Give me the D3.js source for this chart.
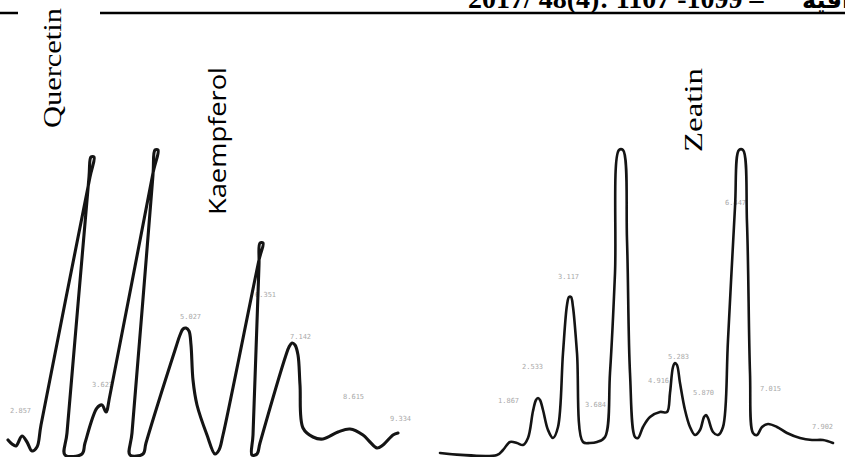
<!DOCTYPE html>
<html>
<head>
<meta charset="utf-8">
<script src="https://cdn.jsdelivr.net/npm/d3@7"></script>
<style>
  html, body { margin: 0; padding: 0; background: #fff; }
  svg { display: block; }
</style>
</head>
<body>
<svg id="chart" width="845" height="457"></svg>
<script>
// Flavonoid run (Quercetin / Kaempferol): retention position and detector signal
const leftTime   = [8, 12, 16, 22, 27, 32, 37, 41, 90, 94, 91, 89, 67, 65, 82, 85, 97, 102, 106, 110, 153, 158, 155, 153, 132, 130, 143, 146, 176, 180, 183, 186, 189, 191, 193, 197, 207, 215, 219, 223, 259, 263, 260, 259, 253, 252, 257, 260, 286, 289, 292, 295, 298, 300, 303, 313, 323, 338, 350, 363, 370, 377, 383, 393, 398];
const leftSignal = [15, 11, 9, 19, 13, 4, 8, 30, 278, 298, 298, 278, 22, 0, 1, 12, 47, 50, 43, 60, 282, 305, 305, 280, 22, 0, 1, 12, 108, 120, 126, 127, 124, 110, 75, 50, 20, 1, 5, 20, 195, 212, 212, 190, 20, 0, 1, 12, 100, 108, 112, 110, 100, 70, 27, 18, 16, 23, 26, 20, 13, 7, 10, 20, 22];

// Cytokinin run (Zeatin)
const rightTime   = [440, 497, 503, 510, 517, 523, 528, 533, 536, 538, 540, 543, 548, 553, 558, 563, 567, 569, 571, 573, 577, 583, 590, 597, 605, 610, 615, 619, 623, 627, 630, 635, 638, 643, 650, 660, 667, 670, 673, 675, 677, 680, 685, 690, 695, 700, 704, 706, 708, 713, 718, 723, 728, 735, 739, 743, 747, 750, 753, 757, 762, 768, 777, 787, 800, 812, 823, 833];
const rightSignal = [2, 0, 5, 13, 12, 10, 17, 44, 55, 57, 55, 45, 25, 17, 28, 102, 150, 158, 158, 148, 102, 13, 12, 13, 18, 82, 182, 305, 305, 215, 82, 18, 17, 28, 38, 43, 43, 62, 88, 92, 90, 72, 45, 28, 20, 25, 38, 40, 37, 23, 20, 28, 115, 248, 305, 305, 232, 82, 22, 20, 28, 31, 28, 22, 17, 15, 15, 12];

// Integrator retention-time prints beside the peaks
const printTime   = [10, 92, 180, 255, 290, 343, 390, 498, 522, 558, 585, 648, 668, 693, 725, 760, 812];
const printSignal = [42, 68, 136, 158, 116, 56, 34, 52, 86, 176, 48, 72, 96, 60, 250, 64, 26];
const printText   = ["2.857", "3.623", "5.027", "6.351", "7.142", "8.615", "9.334", "1.867", "2.533", "3.117", "3.684", "4.916", "5.283", "5.870", "6.447", "7.015", "7.902"];

// Compound names over the peaks
const compoundNames = ["Quercetin", "Kaempferol", "Zeatin"];
const compoundTime  = [61, 226, 702];
const compoundTop   = [128, 215, 152];

const headerText = "2017/ 48(4): 1107 -1099 \u2013";
const headerArabic = "\u0645\u062c\u0644\u0629 \u0627\u0644\u0639\u0644\u0648\u0645 \u0627\u0644\u0632\u0631\u0627\u0639\u064a\u0629 \u0627\u0644\u0639\u0631\u0627\u0642\u064a\u0629";

const svg = d3.select("#chart");

const x = d3.scaleLinear().domain([0, 845]).range([0, 845]);
const y = d3.scaleLinear().domain([0, 305]).range([455, 150]);

// running header and rule
svg.append("text")
  .attr("x", 468).attr("y", 8)
  .attr("font-family", "Liberation Serif, Times New Roman, serif")
  .attr("font-weight", "bold")
  .attr("font-size", 28)
  .attr("fill", "#000")
  .text(headerText);
svg.append("text")
  .attr("x", 802).attr("y", 8)
  .attr("font-family", "DejaVu Sans, Noto Sans, sans-serif")
  .attr("font-weight", "bold")
  .attr("font-size", 24)
  .attr("fill", "#000")
  .text(headerArabic);

[[0, 18], [100, 845]].forEach(([a, b]) => {
  svg.append("line")
    .attr("x1", a).attr("x2", b)
    .attr("y1", 13).attr("y2", 13)
    .attr("stroke", "#000").attr("stroke-width", 2.5);
});

// faint integrator prints
svg.append("g")
  .selectAll("text")
  .data(printText)
  .join("text")
  .attr("x", (d, i) => x(printTime[i]))
  .attr("y", (d, i) => y(printSignal[i]))
  .attr("font-family", "DejaVu Sans Mono, monospace")
  .attr("font-size", 7)
  .attr("fill", "#aaaaaa")
  .text(d => d);

// chromatogram traces
const line = d3.line()
  .x(d => x(d[0]))
  .y(d => y(d[1]))
  .curve(d3.curveCatmullRom.alpha(0.5));

const traces = [
  d3.zip(leftTime, leftSignal),
  d3.zip(rightTime, rightSignal)
];

svg.append("g")
  .selectAll("path")
  .data(traces)
  .join("path")
  .attr("d", line)
  .attr("fill", "none")
  .attr("stroke", "#141414")
  .attr("stroke-width", (d, i) => i === 0 ? 3.1 : 2.6)
  .attr("stroke-linejoin", "round")
  .attr("stroke-linecap", "round");

// compound labels, set vertically
const nameFonts   = ["Liberation Serif, Times New Roman, serif", "Open Sans, Noto Sans, sans-serif", "Liberation Serif, Times New Roman, serif"];
const nameSizes   = [26, 23, 26];
const nameLengths = [120, 148, 84];

svg.append("g")
  .selectAll("text")
  .data(compoundNames)
  .join("text")
  .attr("transform", (d, i) => `translate(${x(compoundTime[i])},${compoundTop[i]}) rotate(-90)`)
  .attr("font-family", (d, i) => nameFonts[i])
  .attr("font-size", (d, i) => nameSizes[i])
  .attr("textLength", (d, i) => nameLengths[i])
  .attr("lengthAdjust", "spacingAndGlyphs")
  .attr("fill", "#000")
  .text(d => d);
</script>
</body>
</html>
